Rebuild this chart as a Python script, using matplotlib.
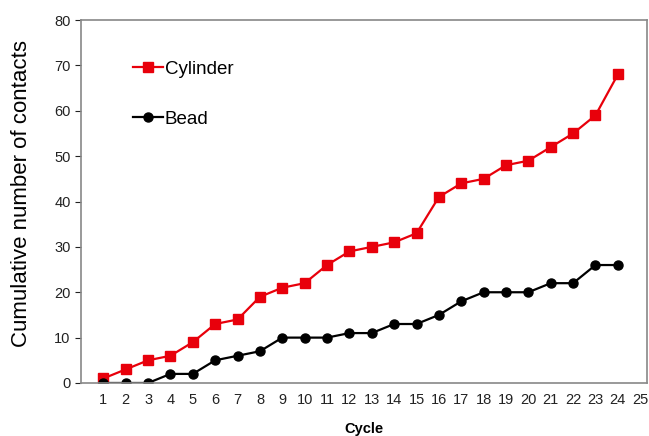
import matplotlib.pyplot as plt

plt.rcParams['font.family'] = ['Liberation Sans', 'DejaVu Sans']

cycles = list(range(1, 25))
cylinder = [1, 3, 5, 6, 9, 13, 14, 19, 21, 22, 26, 29, 30, 31, 33, 41, 44, 45, 48, 49, 52, 55, 59, 68]
bead = [0, 0, 0, 2, 2, 5, 6, 7, 10, 10, 10, 11, 11, 13, 13, 15, 18, 20, 20, 20, 22, 22, 26, 26]
x_ticks = list(range(1, 26))
y_ticks = list(range(0, 81, 10))

fig = plt.figure(figsize=(6.49, 4.36), dpi=100)
ax = fig.add_axes([0.1248, 0.1216, 0.872, 0.8324])

ax.plot(cycles, cylinder, color='#e8000b', marker='s', markersize=6.5, linewidth=1.6, label='Cylinder')
ax.plot(cycles, bead, color='black', marker='o', markersize=6.5, linewidth=1.6, label='Bead')

ax.set_xlim(0, 25.3)
ax.set_ylim(0, 80)
ax.set_xticks(x_ticks)
ax.set_yticks(y_ticks)
ax.tick_params(axis='x', length=0, labelsize=10.5, pad=7, colors='#222222')
ax.tick_params(axis='y', length=4, labelsize=10.5, colors='#222222', direction='out')
for spine in ax.spines.values():
    spine.set_color('#888888')
    spine.set_linewidth(1.2)

ax.set_ylabel('Cumulative number of contacts', fontsize=16)
ax.yaxis.set_label_coords(-0.087, 0.522)
ax.set_xlabel('Cycle', fontsize=10.5, fontweight='bold', labelpad=11)

ax.legend(loc='upper left', bbox_to_anchor=(0.062, 0.935), frameon=False, fontsize=13.5,
          handlelength=1.6, handletextpad=0.1, labelspacing=1.75)

fig.savefig('out.png', dpi=100)
